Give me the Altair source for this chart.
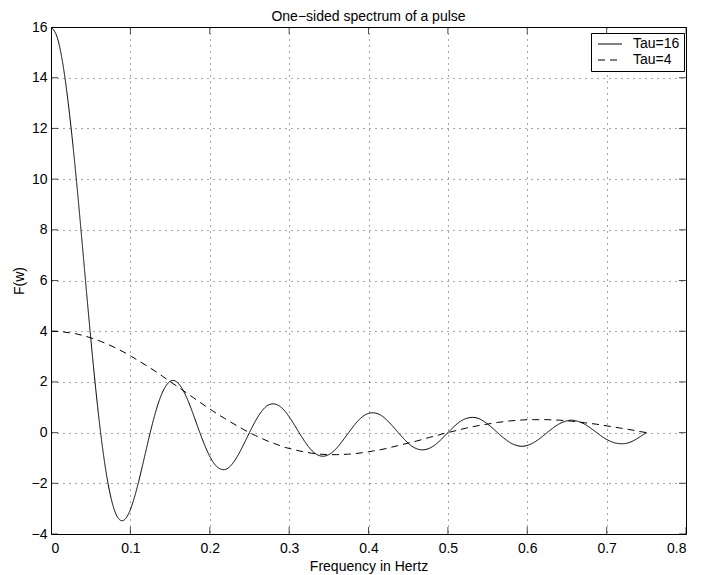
import altair as alt
import pandas as pd

# ---- data ----
freq = [0, 0.0078, 0.0156, 0.0234, 0.0313, 0.0391, 0.0469, 0.0547, 0.0625, 0.0703, 0.0781,
        0.0859, 0.0938, 0.1016, 0.1094, 0.1172, 0.125, 0.1328, 0.1406, 0.1484, 0.1563, 0.1641,
        0.1719, 0.1797, 0.1875, 0.1953, 0.2031, 0.2109, 0.2188, 0.2266, 0.2344, 0.2422, 0.25,
        0.2578, 0.2656, 0.2734, 0.2813, 0.2891, 0.2969, 0.3047, 0.3125, 0.3203, 0.3281, 0.3359,
        0.3438, 0.3516, 0.3594, 0.3672, 0.375, 0.3828, 0.3906, 0.3984, 0.4063, 0.4141, 0.4219,
        0.4297, 0.4375, 0.4453, 0.4531, 0.4609, 0.4688, 0.4766, 0.4844, 0.4922, 0.5,
        0.5078, 0.5156, 0.5234, 0.5313, 0.5391, 0.5469, 0.5547, 0.5625, 0.5703, 0.5781, 0.5859,
        0.5938, 0.6016, 0.6094, 0.6172, 0.625, 0.6328, 0.6406, 0.6484, 0.6563, 0.6641, 0.6719,
        0.6797, 0.6875, 0.6953, 0.7031, 0.7109, 0.7188, 0.7266, 0.7344, 0.7422, 0.75]

tau16 = [16, 15.59, 14.41, 12.55, 10.19, 7.53, 4.80, 2.23, 0,
         -1.73, -2.88, -3.42, -3.40, -2.90, -2.06, -1.04, 0,
         0.92, 1.60, 1.98, 2.04, 1.79, 1.31, 0.68, 0,
         -0.62, -1.11, -1.39, -1.46, -1.30, -0.96, -0.50, 0,
         0.47, 0.85, 1.08, 1.13, 1.02, 0.76, 0.40, 0,
         -0.38, -0.69, -0.88, -0.93, -0.84, -0.63, -0.33, 0,
         0.32, 0.58, 0.74, 0.78, 0.71, 0.53, 0.28, 0,
         -0.27, -0.50, -0.64, -0.68, -0.62, -0.47, -0.25, 0,
         0.24, 0.44, 0.56, 0.60, 0.55, 0.41, 0.22, 0,
         -0.21, -0.39, -0.50, -0.54, -0.49, -0.37, -0.20, 0,
         0.19, 0.35, 0.45, 0.49, 0.44, 0.34, 0.18, 0,
         -0.18, -0.32, -0.41, -0.44, -0.41, -0.31, -0.16, 0]

tau4 = [4.00, 3.99, 3.97, 3.94, 3.90, 3.84, 3.77, 3.69, 3.60,
        3.50, 3.39, 3.27, 3.14, 3.00, 2.85, 2.70, 2.55,
        2.39, 2.22, 2.05, 1.88, 1.71, 1.54, 1.37, 1.20,
        1.03, 0.87, 0.71, 0.56, 0.41, 0.27, 0.13, 0,
        -0.12, -0.23, -0.34, -0.43, -0.52, -0.60, -0.66, -0.72,
        -0.77, -0.81, -0.84, -0.86, -0.87, -0.87, -0.86, -0.85,
        -0.83, -0.80, -0.77, -0.72, -0.68, -0.63, -0.57, -0.51,
        -0.45, -0.39, -0.33, -0.26, -0.19, -0.13, -0.06, 0,
        0.06, 0.12, 0.18, 0.23, 0.28, 0.32, 0.36, 0.40,
        0.43, 0.46, 0.48, 0.50, 0.51, 0.51, 0.51, 0.51,
        0.50, 0.49, 0.47, 0.45, 0.42, 0.39, 0.36, 0.33,
        0.29, 0.25, 0.21, 0.17, 0.13, 0.09, 0.04, 0]

series_names = ["Tau=16", "Tau=4"]
x_ticks = [0, 0.1, 0.2, 0.3, 0.4, 0.5, 0.6, 0.7, 0.8]
y_ticks = [-4, -2, 0, 2, 4, 6, 8, 10, 12, 14, 16]

# ---- layout / style ----
W, H = 635, 507
FONT = "Liberation Sans"

df = pd.DataFrame({
    "freq": freq + freq,
    "F": tau16 + tau4,
    "series": [series_names[0]] * len(freq) + [series_names[1]] * len(freq),
})
xt = pd.DataFrame({"t": x_ticks})
yt = pd.DataFrame({"t": y_ticks})

xscale = alt.Scale(domain=[0, 0.8], nice=False, zero=False)
yscale = alt.Scale(domain=[-4, 16], nice=False, zero=False)
x_axis = alt.Axis(values=x_ticks, format=".1~f", title="Frequency in Hertz",
                  labelPadding=7, titlePadding=4)
y_axis = alt.Axis(values=y_ticks, title="F(w)", labelPadding=4, titlePadding=5)

lines = alt.Chart(df).mark_line(color="black", strokeWidth=1, interpolate="natural").encode(
    x=alt.X("freq:Q", scale=xscale, axis=x_axis),
    y=alt.Y("F:Q", scale=yscale, axis=y_axis),
    strokeDash=alt.StrokeDash(
        "series:N",
        scale=alt.Scale(domain=series_names, range=[[1, 0], [7, 5]]),
        legend=alt.Legend(title=None, orient="none", legendX=540, legendY=6,
                          fillColor="white", strokeColor="black", padding=4, cornerRadius=0,
                          labelFont=FONT, labelFontSize=14, labelColor="black",
                          symbolType="M-3,0H3", symbolSize=64, symbolStrokeWidth=1,
                          symbolStrokeColor="black", symbolOffset=8, labelOffset=16,
                          rowPadding=2),
    ),
)

tick_style = dict(color="black", size=14, thickness=1, clip=True)
tb = alt.Chart(xt).mark_tick(**tick_style).encode(
    x=alt.X("t:Q", scale=xscale, axis=x_axis), y=alt.value(H))
tt = alt.Chart(xt).mark_tick(**tick_style).encode(
    x=alt.X("t:Q", scale=xscale, axis=x_axis), y=alt.value(0))
tl = alt.Chart(yt).mark_tick(**tick_style).encode(
    y=alt.Y("t:Q", scale=yscale, axis=y_axis), x=alt.value(0))
tr = alt.Chart(yt).mark_tick(**tick_style).encode(
    y=alt.Y("t:Q", scale=yscale, axis=y_axis), x=alt.value(W))

chart = alt.layer(lines, tb, tt, tl, tr).properties(
    width=W, height=H,
    autosize=alt.AutoSizeParams(type="none"),
    padding={"left": 43, "top": 19, "right": 10, "bottom": 41},
    title=alt.Title("One−sided spectrum of a pulse", font=FONT, fontSize=14,
                    fontWeight="normal", color="black", offset=0, dy=4, anchor="middle",
                    frame="group"),
).configure_view(
    stroke="black", strokeWidth=1
).configure_axis(
    domain=False, ticks=False,
    labelFont=FONT, labelFontSize=14, labelColor="black",
    titleFont=FONT, titleFontSize=14, titleFontWeight="normal", titleColor="black",
    grid=True, gridColor="black", gridDash=[1, 5], gridOpacity=0.7, gridWidth=1,
)

chart.save("out.html", embed_options={"renderer": "svg", "actions": False})
